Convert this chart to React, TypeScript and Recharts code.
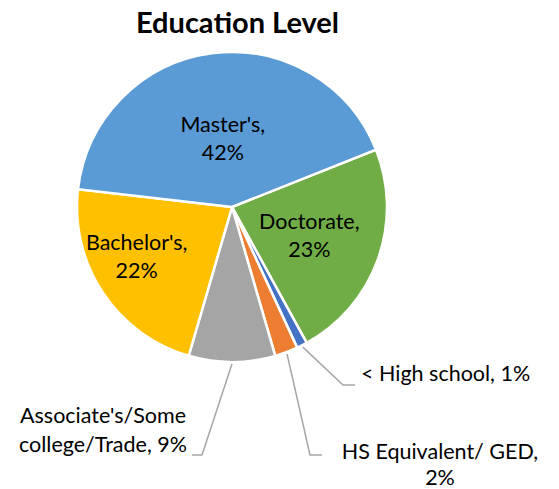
import { PieChart, Pie, Cell } from "recharts";

const categories = [
  "Doctorate",
  "< High school",
  "HS Equivalent/ GED",
  "Associate's/Some college/Trade",
  "Bachelor's",
  "Master's",
];
const shares = [23, 1.1, 2.4, 9, 22.3, 42.1];
const colors = ["#70AD47", "#4472C4", "#ED7D31", "#A5A5A5", "#FFC000", "#5B9BD5"];

const data = categories.map((name, i) => ({ name, value: shares[i] }));

const FONT = "Lato, 'Open Sans', sans-serif";
const LABEL_SIZE = 21.5;
const RAD = Math.PI / 180;

// label placement per slice: inside labels sit on a radius, outside ones get an elbow leader line
type LabelLayout =
  | { kind: "inside"; r: number; dAngle: number }
  | {
      kind: "outside";
      elbow: [number, number];
      hook: number;
      text: [number, number];
      anchor: "start" | "middle";
      split: number;
      gap: number;
    };

const layout: LabelLayout[] = [
  { kind: "inside", r: 0.53, dAngle: 0 },
  { kind: "outside", elbow: [111, 178], hook: 12, text: [129, 166], anchor: "start", split: 0, gap: 0 },
  { kind: "outside", elbow: [78, 248], hook: 12, text: [208, 244], anchor: "middle", split: 1, gap: 26 },
  { kind: "outside", elbow: [-30, 248], hook: -10, text: [-129, 208], anchor: "middle", split: 2, gap: 29 },
  { kind: "inside", r: 0.69, dAngle: -6.6 },
  { kind: "inside", r: 0.45, dAngle: 0 },
];

function labelText(name: string, pct: string, split: number): string[] {
  if (split === 1) return [name + ",", pct];
  if (split === 2) {
    const cut = name.indexOf("/Some") + 5;
    return [name.slice(0, cut), name.slice(cut + 1) + ", " + pct];
  }
  return [name + ", " + pct];
}

function renderLabel(props: any) {
  const { cx, cy, midAngle, outerRadius, percent, index, name } = props;
  const pct = Math.round(percent * 100) + "%";
  const cfg = layout[index];
  if (cfg.kind === "inside") {
    const a = (midAngle + cfg.dAngle) * RAD;
    const r = outerRadius * cfg.r;
    const x = cx + r * Math.cos(a);
    const y = cy - r * Math.sin(a);
    return (
      <text x={x} y={y} textAnchor="middle" fontFamily={FONT} fontSize={LABEL_SIZE} fill="#000">
        <tspan x={x} y={y - 14} dominantBaseline="central">{name + ","}</tspan>
        <tspan x={x} y={y + 14} dominantBaseline="central">{pct}</tspan>
      </text>
    );
  }
  const a = midAngle * RAD;
  const sx = cx + (outerRadius + 2) * Math.cos(a);
  const sy = cy - (outerRadius + 2) * Math.sin(a);
  const ex = cx + cfg.elbow[0];
  const ey = cy + cfg.elbow[1];
  const lines = labelText(name, pct, cfg.split);
  const tx = cx + cfg.text[0];
  const ty = cy + cfg.text[1];
  return (
    <g>
      <polyline
        points={`${sx},${sy} ${ex},${ey} ${ex + cfg.hook},${ey}`}
        fill="none"
        stroke="#A6A6A6"
        strokeWidth={1.5}
      />
      <text x={tx} y={ty} textAnchor={cfg.anchor} fontFamily={FONT} fontSize={LABEL_SIZE} fill="#000">
        {lines.map((l, i) => (
          <tspan key={i} x={tx} y={ty + i * cfg.gap} dominantBaseline="central">
            {l}
          </tspan>
        ))}
      </text>
    </g>
  );
}

export default function App() {
  return (
    <div style={{ position: "absolute", left: 0, top: 0, width: 559, height: 489, background: "#fff" }}>
      <div
        style={{
          position: "absolute",
          left: 0,
          width: 475,
          top: 7,
          lineHeight: "30px",
          textAlign: "center",
          fontFamily: FONT,
          fontWeight: 700,
          fontSize: 29,
          color: "#000",
        }}
      >
        Education Level
      </div>
      <PieChart width={559} height={489} margin={{ top: 0, right: 0, bottom: 0, left: 0 }}>
        <Pie
          data={data}
          dataKey="value"
          nameKey="name"
          cx={232}
          cy={207}
          outerRadius={155}
          startAngle={21.7}
          endAngle={21.7 - 360}
          stroke="#ffffff"
          strokeWidth={2.5}
          label={renderLabel}
          labelLine={false}
          isAnimationActive={false}
        >
          {data.map((_, i) => (
            <Cell key={i} fill={colors[i]} />
          ))}
        </Pie>
      </PieChart>
    </div>
  );
}
